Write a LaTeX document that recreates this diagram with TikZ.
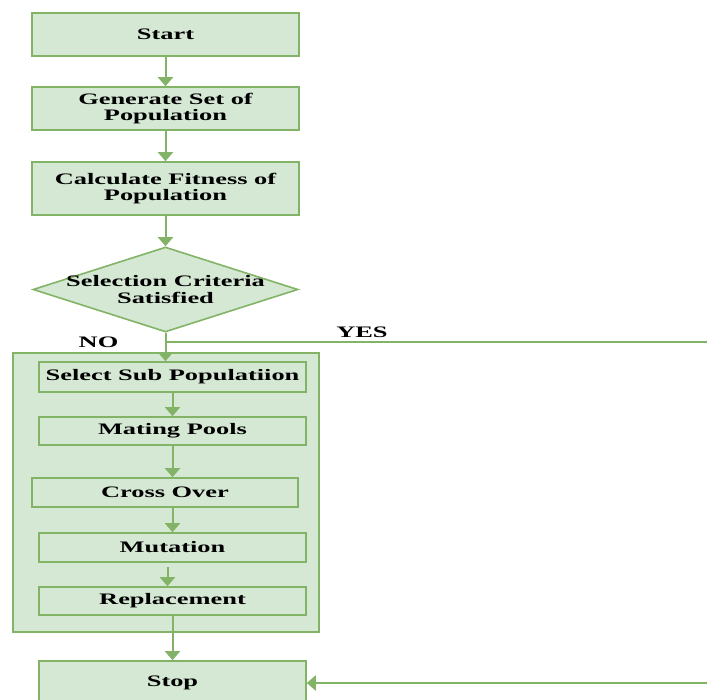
\documentclass[tikz,border=0pt]{standalone}
\usepackage{fontspec}
\newfontfamily\flowfont[FakeStretch=1.65]{Liberation Serif}
\usetikzlibrary{shapes.geometric,arrows.meta}
\definecolor{flowline}{HTML}{82B366}
\definecolor{flowfill}{HTML}{D5E8D4}

\begin{document}
\begin{tikzpicture}[x=1pt,y=-1pt]
\tikzstyle{every node}+=[inner sep=0pt, font=\flowfont\bfseries\fontsize{16}{16.5}\selectfont]
\tikzstyle{stepbox}=[draw=flowline, fill=flowfill, line width=1.6pt, align=center, minimum width=267pt]
\tikzstyle{flow}=[draw=flowline, line width=2pt, -{Triangle[width=15pt,length=9pt]}]
\useasboundingbox (0,0) rectangle (707,700);
\clip (0,0) rectangle (707,700);
\node [stepbox, minimum height=43pt] (start) at (165.5,34.5) {Start};
\node [stepbox, minimum height=43pt] (gen) at (165.5,108.5) {Generate Set of\\Population};
\node [stepbox, minimum height=53pt] (fit) at (165.5,188.5) {Calculate Fitness of\\Population};
\node [diamond, draw=flowline, fill=flowfill, line width=1.6pt, minimum width=265pt, minimum height=85pt,
  label={[align=center]center:Selection Criteria\\Satisfied}] (crit) at (165.5,289.5) {};
\node [stepbox, minimum width=306pt, minimum height=279pt] (loop) at (166,492.5) {};
\node [stepbox, minimum height=30pt] (sel) at (172.5,377) {Select Sub Populatiion};
\node [stepbox, minimum height=28pt] (mate) at (172.5,431) {Mating Pools};
\node [stepbox, minimum height=29pt, minimum width=266pt] (cross) at (165,492.5) {Cross Over};
\node [stepbox, minimum height=29pt] (mut) at (172.5,547.5) {Mutation};
\node [stepbox, minimum height=28pt] (repl) at (172.5,601) {Replacement};
\node [stepbox, minimum height=44pt] (stop) at (172.5,683) {Stop};
\node (no) at (98.5,342.5) {NO};
\node (yes) at (362,332) {YES};
\coordinate (yesend) at (707,342);
\coordinate (stopin) at (707,683);
% main flow
\draw [flow] (start) -- (gen);
\draw [flow] (gen) -- (fit);
\draw [flow] (fit) -- (crit);
\draw [flow] (crit.south) -- (crit.south |- sel.north);
\draw [flow] (sel) -- (mate);
\draw [flow] (mate) -- (cross.north -| mate);
\draw [flow] (cross.south -| mut) -- (mut);
\draw [flow] ([xshift=-5pt,yshift=-4pt]mut.south) -- ([xshift=-5pt]repl.north);
\draw [flow] (repl) -- (stop);
% yes branch
\draw [draw=flowline, line width=2pt] (crit.south |- yesend) -- (yesend);
\draw [flow] (stopin) -- (stop);
\end{tikzpicture}
\end{document}
